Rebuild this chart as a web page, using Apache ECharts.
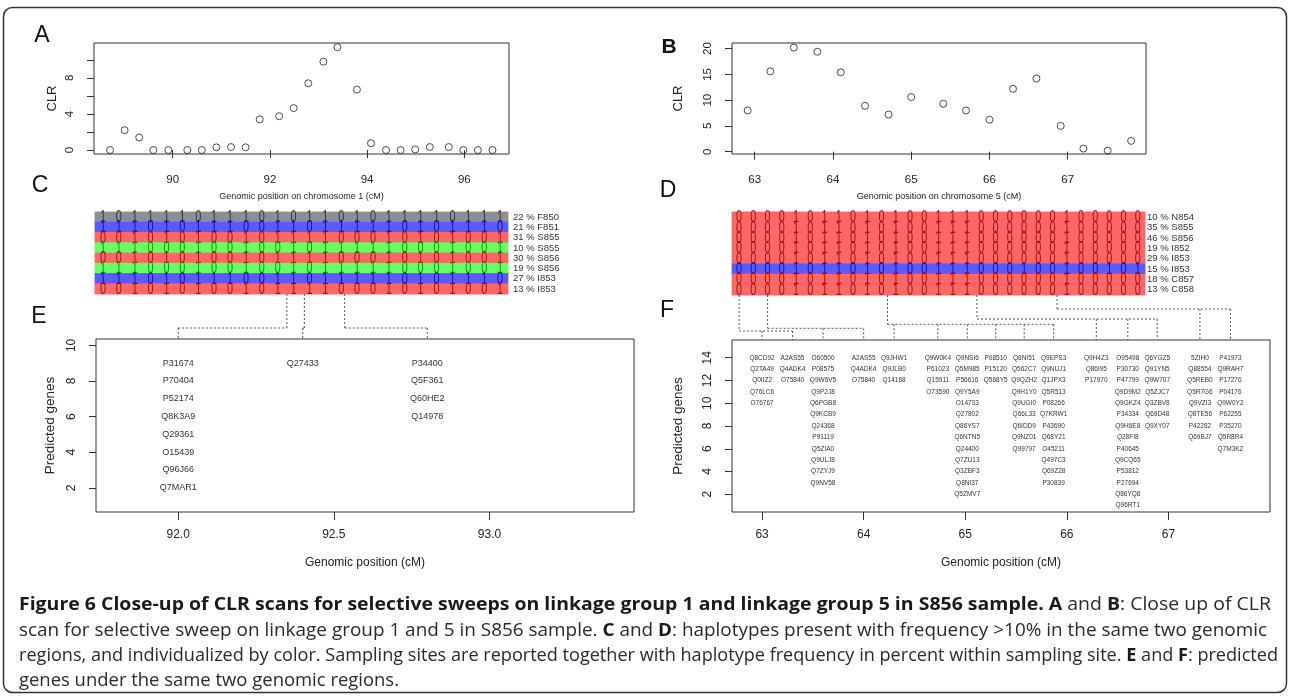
<!DOCTYPE html>
<html><head><meta charset="utf-8">
<script src="https://cdn.jsdelivr.net/npm/echarts@6/dist/echarts.min.js"></script>
<style>html,body{margin:0;padding:0;background:#fff;}#c{width:1290px;height:696px;}</style>
</head><body><div id="c"></div>
<script>
// ---------- DATA ----------
// Panel A: CLR scan, linkage group 1
const aPos = [88.71,89.01,89.31,89.60,89.91,90.30,90.60,90.90,91.20,91.50,91.79,92.19,92.49,92.79,93.10,93.39,93.79,94.08,94.39,94.69,94.99,95.29,95.68,95.98,96.28,96.58];
const aClr = [0,2.2,1.4,0,0,0,0,0.3,0.33,0.3,3.4,3.75,4.65,7.4,9.8,11.4,6.7,0.75,0,0,0.07,0.33,0.33,0,0,0];
const aTicksX = [90,92,94,96];
const aTicksY = [0,2,4,6,8,10];
const aLabelsY = [0,4,8];
// Panel B: CLR scan, linkage group 5
const bPos = [62.91,63.20,63.50,63.80,64.10,64.41,64.71,65.00,65.41,65.70,66.00,66.30,66.60,66.91,67.20,67.51,67.81];
const bClr = [8.0,15.6,20.2,19.4,15.4,8.9,7.2,10.6,9.3,8.0,6.2,12.2,14.2,5.0,0.6,0.2,2.1];
const bTicksX = [63,64,65,66,67];
const bTicksY = [0,5,10,15,20];
// Panel C: haplotypes LG1
const cHap = ['10111101110101101011110111','11101011100110111110101110','00101010010111100010101001','11100010010010111110001001',
              '00101010010111100010101001','11100010010010111110001001','11101011100110111110101110','00101010010111100010101001'];
const cColor = ['gray','blue','red','green','red','green','blue','red'];
const cLabels = ['22 % F850','21 % F851','31 % S855','10 % S855','30 % S856','19 % S856','27 % I853','13 % I853'];
// Panel D: haplotypes LG5
const dHap = ['00001011010100111000000100000','00001011010100111000000100000','00001011010100111000000100000','00001011010100111000000100000',
              '00001011010100111000000100000','00001011010100111000100100101','00001011010100111000000100000','00001011010100111000000100000'];
const dColor = ['red','red','red','red','red','blue','red','red'];
const dLabels = ['10 % N854','35 % S855','46 % S856','19 % I852','29 % I853','15 % I853','18 % C857','13 % C858'];
// Panel E: predicted genes LG1
const eColX = [92.0, 92.4, 92.8];
const eGenes = [
  ['P31674','P70404','P52174','Q8K3A9','Q29361','O15439','Q96J66','Q7MAR1'],
  ['Q27433'],
  ['P34400','Q5F361','Q60HE2','Q14978']
];
const eTopRow = 9;
const eTicksX = [92.0, 92.5, 93.0];
const eTicksY = [2,4,6,8,10];
const eLinks = [{snp:11.58, cols:[0]}, {snp:12.68, cols:[1]}, {snp:15.22, cols:[2]}];
// Panel F: predicted genes LG5
const fColX = [63.0,63.3,63.6,64.0,64.3,64.73,65.02,65.3,65.58,65.87,66.29,66.6,66.89,67.31,67.61];
const fGenes = [
  ['Q8CD92','Q2TA49','Q0IIZ2','Q76LC6','O76767'],
  ['A2AS55','Q4ADK4','O75840'],
  ['O60500','P08575','Q9W6V5','Q9P2J8','Q6PGB8','Q9KCB9','Q24368','P91119','Q5ZIA0','Q9ULJ8','Q7ZYJ9','Q9NV58'],
  ['A2AS55','Q4ADK4','O75840'],
  ['Q9JHW1','Q9JLB0','Q14168'],
  ['Q9W0K4','P61023','Q15911','O73590'],
  ['Q9NSI6','Q5M985','P56616','Q9Y5A9','O14733','Q27802','Q86YS7','Q6NTN5','Q24400','Q7ZU13','Q3ZBF3','Q8NI37','Q5ZMV7'],
  ['P08510','P15120','Q568Y5'],
  ['Q8NI51','Q562C7','Q9QZH2','Q9H1Y0','Q9UGI0','Q66L33','Q6IDD9','Q9NZ01','Q99797'],
  ['Q9EPS3','Q9NUJ1','Q1JPX3','Q5R513','P08266','Q7KRW1','P43690','Q68Y21','O45211','Q497C3','Q69Z28','P30839'],
  ['Q9H4Z3','Q86I95','P17970'],
  ['O95498','P30730','P47799','Q9D9M2','Q9GKZ4','P34334','Q9H6E8','Q28FI8','P40645','Q9CQ65','P53812','P27694','Q86YQ8','Q96RT1'],
  ['Q6YGZ5','Q91YN5','Q9W707','Q5ZJC7','Q3ZBV8','Q69D48','Q9XY07'],
  ['5ZIH0','Q88554','Q5REB0','Q5R7G6','Q9VZI3','Q8TE56','P42282','Q69BJ7'],
  ['P41973','Q9RAH7','P17276','P04176','Q9W0Y2','P62255','P35270','Q5R8R4','Q7M3K2']
];
const fTopRow = 14;
const fTicksX = [63,64,65,66,67];
const fTicksY = [2,4,6,8,10,12,14];
const fLinks = [{snp:0.0, cols:[0,1]}, {snp:2.0, cols:[2,3]}, {snp:10.42, cols:[4,5,6,7,8,9]}, {snp:16.7, cols:[10,11,12]}, {snp:22.32, cols:[13,14]}];
// Caption
const captionLines = [
  [['b','Figure 6 Close-up of CLR scans for selective sweeps on linkage group 1 and linkage group 5 in S856 sample. '],['b','A'],['n',' and '],['b','B'],['n',': Close up of CLR']],
  [['n','scan for selective sweep on linkage group 1 and 5 in S856 sample. '],['b','C'],['n',' and '],['b','D'],['n',': haplotypes present with frequency >10% in the same two genomic']],
  [['n','regions, and individualized by color. Sampling sites are reported together with haplotype frequency in percent within sampling site. '],['b','E'],['n',' and '],['b','F'],['n',': predicted']],
  [['n','genes under the same two genomic regions.']]
];
const panelLetters = ['A','B','C','D','E','F'];

// ---------- STYLE / LAYOUT ----------
const FONT = '"Liberation Sans", Arial, sans-serif';
const FILL = {gray:'#8e8e8e', blue:'#5a5aff', red:'#ff6767', green:'#66ff66'};
const INK  = {gray:'#333333', blue:'#1010aa', red:'#a81010', green:'#0e9a0e'};
const G = {
  A:{left:94, top:43, width:415, height:111},
  B:{left:732, top:43, width:414, height:111},
  C:{left:95, top:212, width:413, height:82},
  D:{left:732, top:212, width:413, height:83},
  E:{left:96, top:339, width:538, height:173},
  F:{left:732, top:340, width:538, height:172}
};
const eLevels = [11, 11, 11];
const fLevels = [9, 11.7, 15.7, 21, 31];
const letterPos = [[42,36,false],[669,47,true],[40,186,false],[668,191,false],[39,317,false],[667,311,false]];
const capY = [605, 631, 656, 681];
const capRight = [1271, 1267, 1278, 399];
const capLeft = 19;
const CAP_FS = 18.5;

function grid(g, show){ return Object.assign({containLabel:false, show:show, borderColor:'#333', borderWidth:1, backgroundColor:'transparent'}, g); }
function vAxis(gi, min, max, ticks, labels, o){
  return {type:'value', gridIndex:gi, min:min, max:max, position:o.pos,
    axisLine:{show:false}, splitLine:{show:false},
    axisTick:{show:true, customValues:ticks, length:o.tl, lineStyle:{color:'#333', width:1}},
    axisLabel:{show:true, customValues:labels, fontSize:o.fs, color:'#222', margin:o.m, rotate:o.rot||0, fontFamily:FONT,
      formatter:o.fmt || (v=>String(v))},
    name:o.name, nameLocation:'middle', nameGap:o.ng,
    nameTextStyle:{fontSize:o.nfs, color:'#222', fontFamily:FONT}};
}
function hiddenX(gi, n){ return {type:'value', gridIndex:gi, min:-0.5, max:n-0.5, show:false}; }
function catY(gi, labels, margin){
  return {type:'category', gridIndex:gi, data:labels, inverse:true, position:'right',
    axisLine:{show:false}, axisTick:{show:false}, splitLine:{show:false},
    axisLabel:{show:true, interval:0, margin:margin, fontSize:9.5, color:'#333', fontFamily:FONT, align:'left'}};
}
function hapCells(hap){ const out=[]; hap.forEach((row,r)=>{ for(let i=0;i<row.length;i++) out.push([i, r, +row[i]]); }); return out; }
function fillRender(colors){
  return function(params, api){
    const c = api.coord([api.value(0), api.value(1)]);
    const s = api.size([1,1]);
    return {type:'rect', shape:{x:c[0]-s[0]/2-0.4, y:c[1]-s[1]/2-0.4, width:s[0]+0.8, height:s[1]+0.8},
      style:{fill:FILL[colors[api.value(1)]]}};
  };
}
function digitRender(colors){
  return function(params, api){
    const c = api.coord([api.value(0), api.value(1)]);
    return {type:'text', x:c[0], y:c[1]+0.5, scaleX:0.66,
      style:{text:String(api.value(2)), fill:INK[colors[api.value(1)]], fontSize:16.5, fontWeight:'normal',
        fontFamily:FONT, align:'center', verticalAlign:'middle'}};
  };
}
function geneData(cols, genes, topRow){
  const d=[], names=[];
  genes.forEach((list,ci)=>list.forEach((g,k)=>{ d.push([cols[ci], topRow-k]); names.push(g); }));
  return {d, names};
}
const eG = geneData(eColX, eGenes, eTopRow);
const fG = geneData(fColX, fGenes, fTopRow);
function geneRender(names, fs){
  return function(params, api){
    const c = api.coord([api.value(0), api.value(1)]);
    return {type:'text', x:c[0], y:c[1],
      style:{text:names[params.dataIndex], fill:'#333', fontSize:fs, fontFamily:FONT, align:'center', verticalAlign:'middle'}};
  };
}

const chart = echarts.init(document.getElementById('c'));
chart.setOption({
  animation:false,
  backgroundColor:'#fff',
  grid:[grid(G.A,true), grid(G.B,true), grid(G.C,false), grid(G.D,false), grid(G.E,true), grid(G.F,true)],
  xAxis:[
    vAxis(0, 88.38, 96.92, aTicksX, aTicksX, {tl:8, fs:11.5, m:20, name:'Genomic position on chromosome 1 (cM)', ng:38, nfs:9}),
    vAxis(1, 62.71, 68.0, bTicksX, bTicksX, {tl:8, fs:11.5, m:20, name:'Genomic position on chromosome 5 (cM)', ng:38, nfs:9}),
    hiddenX(2, cHap[0].length),
    hiddenX(3, dHap[0].length),
    vAxis(4, 91.736, 93.464, eTicksX, eTicksX, {tl:8, fs:12, m:17, name:'Genomic position (cM)', ng:45, nfs:12, fmt:v=>v.toFixed(1)}),
    vAxis(5, 62.704, 68.0, fTicksX, fTicksX, {tl:8, fs:12, m:17, name:'Genomic position (cM)', ng:45, nfs:12})
  ],
  yAxis:[
    vAxis(0, -0.44, 11.87, aTicksY, aLabelsY, {tl:7, fs:11.5, m:18, rot:90, name:'CLR', ng:35, nfs:13, pos:'left'}),
    vAxis(1, -0.45, 21.09, bTicksY, bTicksY, {tl:7, fs:11.5, m:18, rot:90, name:'CLR', ng:47, nfs:13, pos:'left'}),
    catY(2, cLabels, 5),
    catY(3, dLabels, 2),
    vAxis(4, 0.64, 10.36, eTicksY, eTicksY, {tl:7, fs:12, m:18, rot:90, name:'Predicted genes', ng:39, nfs:13.5, pos:'left'}),
    vAxis(5, 0.44, 15.56, fTicksY, fTicksY, {tl:7, fs:12, m:18, rot:90, name:'Predicted genes', ng:47, nfs:13.5, pos:'left'})
  ],
  series:[
    {type:'scatter', xAxisIndex:0, yAxisIndex:0, symbol:'circle', symbolSize:7,
      itemStyle:{color:'rgba(0,0,0,0)', borderColor:'#222', borderWidth:1}, data:aPos.map((x,i)=>[x,aClr[i]])},
    {type:'scatter', xAxisIndex:1, yAxisIndex:1, symbol:'circle', symbolSize:7,
      itemStyle:{color:'rgba(0,0,0,0)', borderColor:'#222', borderWidth:1}, data:bPos.map((x,i)=>[x,bClr[i]])},
    {type:'custom', xAxisIndex:2, yAxisIndex:2, z:1, renderItem:fillRender(cColor), data:hapCells(cHap)},
    {type:'custom', xAxisIndex:2, yAxisIndex:2, z:3, renderItem:digitRender(cColor), data:hapCells(cHap)},
    {type:'custom', xAxisIndex:3, yAxisIndex:3, z:1, renderItem:fillRender(dColor), data:hapCells(dHap)},
    {type:'custom', xAxisIndex:3, yAxisIndex:3, z:3, renderItem:digitRender(dColor), data:hapCells(dHap)},
    {type:'custom', xAxisIndex:4, yAxisIndex:4, renderItem:geneRender(eG.names, 9), data:eG.d},
    {type:'custom', xAxisIndex:5, yAxisIndex:5, renderItem:geneRender(fG.names, 6.5), data:fG.d}
  ]
});

// ---------- decorations computed from axes ----------
const graphics = [];
graphics.push({type:'rect', z:0, silent:true, shape:{x:3.5, y:7.5, width:1283, height:685, r:9},
  style:{fill:'none', stroke:'#333', lineWidth:1.5}});
panelLetters.forEach((L,i)=>{
  const p = letterPos[i];
  graphics.push({type:'text', x:p[0], y:p[1], style:{text:L, fontSize:p[2]?21:23, fontWeight:p[2]?'bold':'normal',
    fontFamily:p[2]?'"Liberation Sans Narrow", "Liberation Sans", sans-serif':FONT, fill:'#111', align:'center', verticalAlign:'middle'}});
});
function dotted(pts){ return {type:'polyline', z:5, silent:true, shape:{points:pts}, style:{fill:'none', stroke:'#555', lineWidth:1, lineDash:[2,2]}}; }
function links(hapAxis, geneXAxis, geneYAxis, yMax, gBlock, colX, lk, levels){
  const blockBottom = gBlock.top + gBlock.height;
  const boxTop = chart.convertToPixel({yAxisIndex:geneYAxis}, yMax);
  lk.forEach((L,i)=>{
    const tx = chart.convertToPixel({xAxisIndex:hapAxis}, L.snp);
    const cx = L.cols.map(c=>chart.convertToPixel({xAxisIndex:geneXAxis}, colX[c]));
    const lvl = boxTop - levels[i];
    graphics.push(dotted([[tx, blockBottom],[tx, lvl]]));
    const xs = cx.concat([tx]);
    graphics.push(dotted([[Math.min(...xs), lvl],[Math.max(...xs), lvl]]));
    cx.forEach(x=>graphics.push(dotted([[x, lvl],[x, boxTop]])));
  });
}
links(2, 4, 4, 10.36, G.C, eColX, eLinks, eLevels);
links(3, 5, 5, 15.56, G.D, fColX, fLinks, fLevels);

// caption
const ctx = document.createElement('canvas').getContext('2d');
const capFont = b => (b?'bold ':'') + CAP_FS + 'px "Open Sans"';
captionLines.forEach((segs, li)=>{
  let w = 0;
  segs.forEach(s=>{ ctx.font = capFont(s[0]==='b'); w += ctx.measureText(s[1]).width; });
  const sx = (capRight[li]-capLeft)/w;
  const text = segs.map(s=>'{'+s[0]+'|'+s[1]+'}').join('');
  graphics.push({type:'text', x:capLeft, y:capY[li], scaleX:sx,
    style:{text:text, verticalAlign:'middle', align:'left',
      rich:{b:{fontFamily:'"Open Sans"', fontSize:CAP_FS, fontWeight:'bold', fill:'#1a1a1a'},
            n:{fontFamily:'"Open Sans"', fontSize:CAP_FS, fontWeight:'normal', fill:'#2a2a2a'}}}});
});
chart.setOption({graphic:graphics});
</script>
</body></html>
